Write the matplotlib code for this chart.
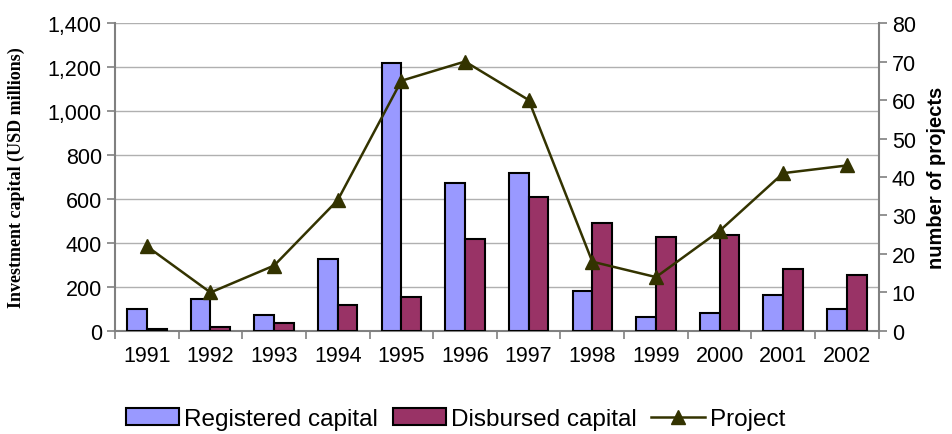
import matplotlib.pyplot as plt
import numpy as np
from matplotlib.ticker import FuncFormatter

plt.rcParams['font.family'] = ['Liberation Sans', 'DejaVu Sans']

years = ['1991', '1992', '1993', '1994', '1995', '1996', '1997', '1998', '1999', '2000', '2001', '2002']
registered = [100, 145, 73, 327, 1218, 673, 718, 182, 62, 82, 164, 100]
disbursed = [9, 18, 36, 118, 155, 418, 609, 491, 427, 436, 282, 255]
projects = [22, 10, 17, 34, 65, 70, 60, 18, 14, 26, 41, 43]

REG_COLOR = '#9999FF'
DIS_COLOR = '#993366'
LINE_COLOR = '#333300'

fig = plt.figure(figsize=(9.53, 4.35), dpi=100)
ax = fig.add_axes([0.1207, 0.2368, 0.8013, 0.708])

x = np.arange(len(years))
w = 0.31
b1 = ax.bar(x - w / 2, registered, w, color=REG_COLOR, edgecolor='black', linewidth=1.5,
            label='Registered capital', zorder=3)
b2 = ax.bar(x + w / 2, disbursed, w, color=DIS_COLOR, edgecolor='black', linewidth=1.5,
            label='Disbursed capital', zorder=3)

ax.set_xlim(-0.5, len(years) - 0.5)
ax.set_ylim(0, 1400)
ax.set_yticks(range(0, 1401, 200))
ax.yaxis.set_major_formatter(FuncFormatter(lambda v, p: f'{int(v):,}'))
ax.set_xticks(x)
ax.set_xticklabels(years)
ax.set_xticks(np.arange(-0.5, len(years), 1), minor=True)
ax.tick_params(axis='x', which='major', length=0, labelsize=15.5, pad=10)
ax.tick_params(axis='x', which='minor', length=6, width=1.2, color='#808080')
ax.tick_params(axis='y', labelsize=15.5, length=6, width=1.2, color='#808080')
ax.grid(True, axis='y', color='#b0b0b0', linewidth=1, zorder=0)
ax.set_axisbelow(True)
for s in ['top', 'right']:
    ax.spines[s].set_visible(False)
for s in ['left', 'bottom']:
    ax.spines[s].set_color('#808080')
    ax.spines[s].set_linewidth(1.5)
ax.set_ylabel('Investment capital (USD millions)', family=['Liberation Serif', 'DejaVu Serif'],
              fontweight='bold', fontsize=13, labelpad=16)

ax2 = ax.twinx()
l1, = ax2.plot(x, projects, color=LINE_COLOR, linewidth=1.8, marker='^', markersize=10,
               label='Project', zorder=4)
ax2.set_ylim(0, 80)
ax2.set_yticks(range(0, 81, 10))
ax2.tick_params(axis='y', labelsize=15.5, length=6, width=1.2, color='#808080')
for s in ['top', 'left', 'bottom']:
    ax2.spines[s].set_visible(False)
ax2.spines['right'].set_color('#808080')
ax2.spines['right'].set_linewidth(1.5)
ax2.set_ylabel('number of projects', fontweight='bold', fontsize=14.5, labelpad=8)

fig.legend([b1, b2, l1], ['Registered capital', 'Disbursed capital', 'Project'],
           loc='lower center', bbox_to_anchor=(0.478, -0.025), ncol=3, frameon=False,
           fontsize=17.5, handlelength=2.2, handletextpad=0.2, columnspacing=0.6,
           borderaxespad=0.2)

plt.savefig('out.png', dpi=100)
